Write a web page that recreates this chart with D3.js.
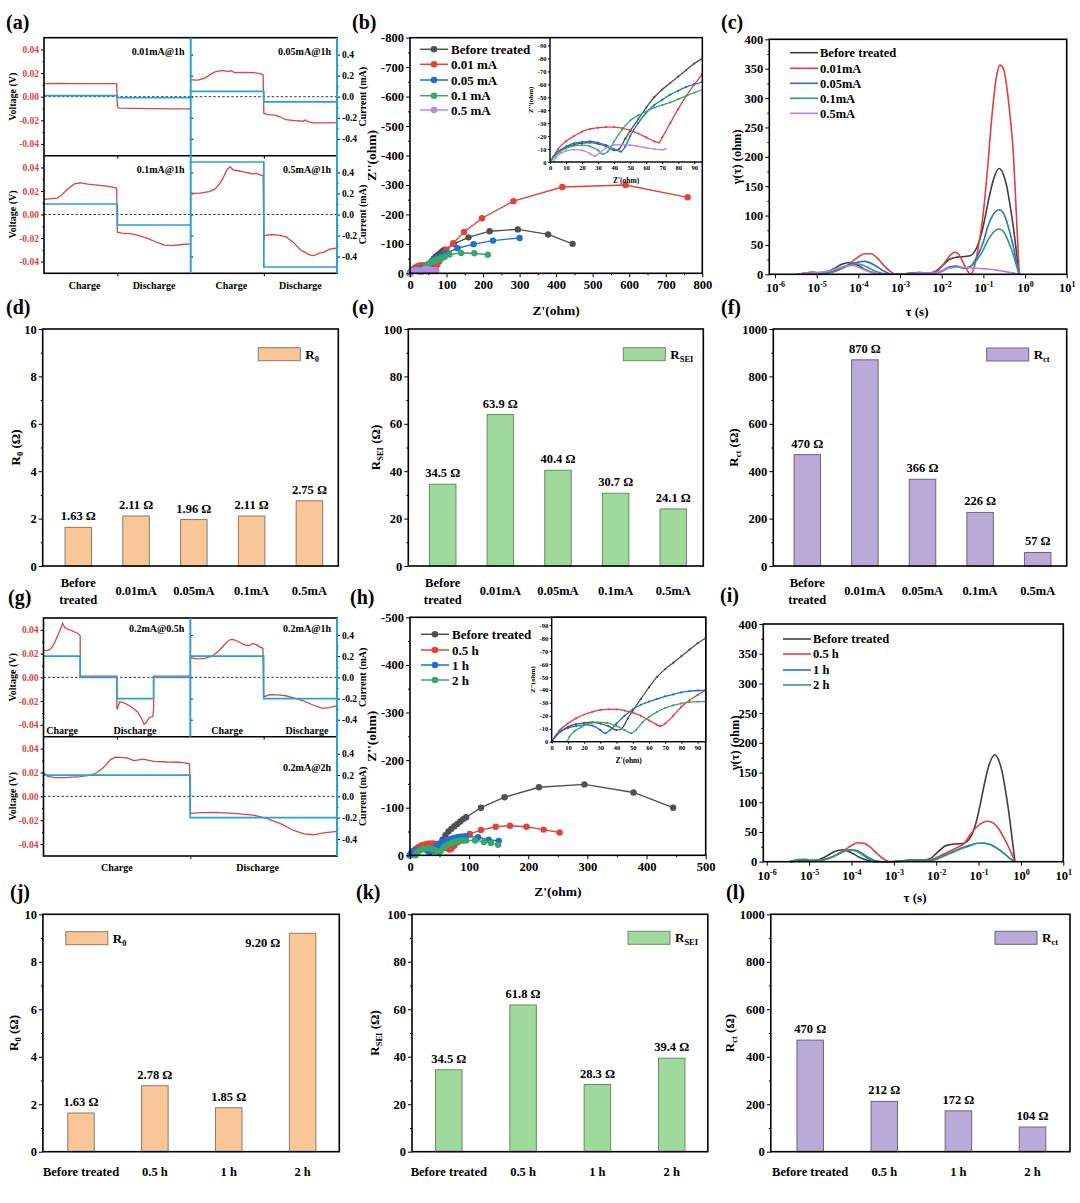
<!DOCTYPE html>
<html><head><meta charset="utf-8">
<script src="https://cdn.jsdelivr.net/npm/d3@7/dist/d3.min.js"></script>
<style>
html,body{margin:0;padding:0;background:#fff;}
svg{display:block;}
</style></head>
<body>
<svg id="fig" width="1080" height="1203" font-family="'Liberation Serif','Times New Roman',serif" font-weight="bold"></svg>
<script>
// ================= DATA =================
// (a) voltage (V) / current (mA) vs time (h)
const voltA_001 = [[0,0.0110],[0.2,0.0112],[0.4,0.0110],[0.6,0.0111],[0.8,0.0110],[0.99,0.0110],[1.0,-0.0085],[1.02,-0.0096],[1.2,-0.0099],[1.5,-0.0101],[1.8,-0.0103],[2.0,-0.0104]];
const currA_001 = [[0,0.01],[1,0.01],[1,-0.01],[2,-0.01]];
const voltA_005 = [[0,0.0143],[0.1,0.0140],[0.2,0.0160],[0.26,0.0185],[0.33,0.0210],[0.4,0.0218],[0.45,0.0222],[0.49,0.0212],[0.55,0.0220],[0.6,0.0204],[0.75,0.0206],[0.86,0.0204],[0.95,0.0196],[0.99,0.0186],[1.0,-0.0140],[1.05,-0.0152],[1.15,-0.0157],[1.22,-0.0170],[1.3,-0.0195],[1.45,-0.0204],[1.54,-0.0208],[1.57,-0.0195],[1.6,-0.0212],[1.68,-0.0222],[1.85,-0.0222],[2.0,-0.0220]];
const currA_005 = [[0,0.05],[1,0.05],[1,-0.05],[2,-0.05]];
const voltA_01 = [[0,0.0129],[0.1,0.0135],[0.18,0.0140],[0.25,0.0170],[0.32,0.0215],[0.42,0.0262],[0.5,0.0268],[0.6,0.0258],[0.76,0.0247],[0.88,0.0240],[0.99,0.0225],[1.0,-0.0150],[1.06,-0.0158],[1.2,-0.0165],[1.3,-0.0180],[1.42,-0.0205],[1.55,-0.0240],[1.65,-0.0260],[1.75,-0.0265],[1.88,-0.0255],[2.0,-0.0250]];
const currA_01 = [[0,0.1],[1,0.1],[1,-0.1],[2,-0.1]];
const voltA_05 = [[0,0.0184],[0.05,0.0180],[0.13,0.0182],[0.25,0.0195],[0.33,0.0215],[0.4,0.0265],[0.45,0.0320],[0.5,0.0385],[0.54,0.0405],[0.58,0.0380],[0.65,0.0372],[0.72,0.0362],[0.78,0.0355],[0.85,0.0345],[0.9,0.0350],[0.96,0.0335],[0.99,0.0330],[1.0,-0.0220],[1.01,-0.0180],[1.1,-0.0170],[1.2,-0.0175],[1.3,-0.0188],[1.4,-0.0235],[1.5,-0.0300],[1.6,-0.0335],[1.66,-0.0350],[1.7,-0.0345],[1.75,-0.0330],[1.82,-0.0320],[1.9,-0.0295],[1.95,-0.0290],[2.0,-0.0285]];
const currA_05 = [[0,0.5],[1,0.5],[1,-0.5],[2,-0.5]];
const labelsA = ["0.01mA@1h","0.05mA@1h","0.1mA@1h","0.5mA@1h"];

// (g)
const voltG_05h = [[0,0.0227],[0.05,0.0225],[0.1,0.0240],[0.15,0.0290],[0.2,0.0360],[0.24,0.0420],[0.26,0.0455],[0.29,0.0420],[0.33,0.0405],[0.38,0.0395],[0.43,0.0380],[0.47,0.0370],[0.5,0.0350],[0.5,0.0010],[1.0,0.0010],[1.0,-0.0270],[1.04,-0.0205],[1.1,-0.0215],[1.2,-0.0250],[1.28,-0.0290],[1.33,-0.0340],[1.37,-0.0395],[1.4,-0.0380],[1.44,-0.0340],[1.49,-0.0330],[1.5,-0.0260],[1.5,0.0010],[2.0,0.0010]];
const currG_05h = [[0,0.2],[0.5,0.2],[0.5,0],[1,0],[1,-0.2],[1.5,-0.2],[1.5,0],[2,0]];
const voltG_1h = [[0,0.0165],[0.05,0.0160],[0.1,0.0155],[0.2,0.0160],[0.3,0.0180],[0.4,0.0230],[0.48,0.0285],[0.55,0.0320],[0.6,0.0315],[0.66,0.0300],[0.73,0.0275],[0.8,0.0265],[0.85,0.0285],[0.9,0.0275],[0.95,0.0255],[0.99,0.0245],[1.0,-0.0165],[1.08,-0.0145],[1.2,-0.0148],[1.3,-0.0155],[1.42,-0.0175],[1.55,-0.0200],[1.68,-0.0235],[1.8,-0.0262],[1.9,-0.0255],[2.0,-0.0238]];
const currG_1h = [[0,0.2],[1,0.2],[1,-0.2],[2,-0.2]];
const voltG_2h = [[0,0.0200],[0.05,0.0170],[0.15,0.0157],[0.3,0.0157],[0.5,0.0165],[0.64,0.0177],[0.73,0.0200],[0.82,0.0243],[0.91,0.0306],[0.98,0.0328],[1.14,0.0322],[1.23,0.0300],[1.36,0.0312],[1.5,0.0294],[1.68,0.0288],[1.86,0.0286],[1.99,0.0272],[2.0,-0.0143],[2.14,-0.0136],[2.32,-0.0134],[2.59,-0.0143],[2.86,-0.0157],[3.05,-0.0186],[3.23,-0.0229],[3.41,-0.0286],[3.55,-0.0314],[3.68,-0.0322],[3.82,-0.0306],[4.0,-0.0294]];
const currG_2h = [[0,0.2],[2,0.2],[2,-0.2],[4,-0.2]];
const labelsG = ["0.2mA@0.5h","0.2mA@1h","0.2mA@2h"];

// Nyquist data: [Z' (ohm), -Z'' (ohm)]
const nyqBefore = [[0,0],[3,5],[6,8.5],[10,11.5],[15,13.5],[20,14.5],[25,15],[30,14],[35,12],[40,9],[43,10],[47,18],[50,24],[55,33],[60,42],[65,50],[70,56],[75,61],[80,66],[85,71],[90,76],[95,80],[120,100],[160,122],[218,143],[295,149],[378,132],[445,100]];
const nyq001 = [[0,0],[2,4],[5,10],[10,16],[15,20],[20,23.5],[25,25.5],[30,26.5],[35,27],[40,27],[45,26],[50,24.5],[55,22],[60,19],[65,16],[68,15],[70,19],[75,30],[80,41],[85,51],[90,60],[95,68],[100,80],[118,102],[148,140],[197,187],[283,245],[417,293],[590,300],[760,258]];
const nyq005 = [[0,0],[2,4],[5,8],[10,12],[15,14.5],[20,15.5],[25,16],[30,15],[35,13],[40,10],[44,8],[47,12],[50,20],[55,30],[60,38],[65,44],[70,48],[75,52],[80,55],[85,58],[90,60],[95,62],[98,68],[130,85],[174,99],[227,111],[300,120]];
const nyq01 = [[0,0],[2,3],[5,7],[10,10.5],[15,12.5],[20,13],[25,12],[30,9],[33,6],[36,8],[40,16],[45,25],[50,32],[55,36],[60,39],[65,42],[70,44],[75,46],[80,48.5],[85,51],[90,53.5],[95,56],[108,64],[140,69],[176,68],[213,63]];
const nyq05 = [[2,0],[4,4],[7,7],[10,8.5],[15,9.5],[20,9],[25,6.5],[28,4.5],[31,7],[35,11],[40,13],[45,13.5],[50,13],[55,12],[60,11],[65,10],[70,9.5],[72,10]];
const nyqH05 = [[0,0],[2,4],[5,9],[10,14],[15,18],[20,21],[25,23],[30,24.5],[35,25],[40,25],[45,24],[50,22.5],[55,20],[60,16.5],[65,13],[67,12],[70,14],[75,20],[80,27],[85,32],[90,36],[95,40],[101,45],[120,53],[145,60],[169,62],[197,60],[226,54],[253,48]];
const nyqH1 = [[0,0],[2,3.5],[5,7.5],[10,10.5],[15,12],[20,13],[25,12.5],[30,9],[33,6.5],[36,9],[40,14],[45,20],[50,25],[55,28.5],[60,31],[65,33],[70,35],[75,36.5],[80,38],[85,39],[90,39.5],[95,39.5],[115,38],[133,33],[150,30]];
const nyqH2 = [[9.5,0],[11,4],[14,8],[18,11],[22,13.5],[28,15],[34,14.5],[40,12],[45,9],[49,6.5],[52,9],[56,15],[60,19],[65,23],[70,26],[75,28],[80,29.5],[85,30.5],[90,31],[95,31],[110,31],[125,28],[137,26],[149,22]];
const legendB = ["Before treated","0.01 mA","0.05 mA","0.1 mA","0.5 mA"];
const legendH = ["Before treated","0.5 h","1 h","2 h"];

// DRT data: [log10(tau/s), gamma (ohm)]
const drtBefore = [[-5.45,0],[-5.25,2],[-5.1,4],[-4.95,2],[-4.8,3],[-4.6,9],[-4.4,17],[-4.2,20],[-4.0,15],[-3.8,7],[-3.6,2],[-3.45,0],[-3.0,0],[-2.75,2],[-2.55,3],[-2.35,2],[-2.15,5],[-1.95,17],[-1.8,26],[-1.65,29],[-1.5,30],[-1.35,31],[-1.2,40],[-1.05,68],[-0.95,100],[-0.85,135],[-0.75,163],[-0.62,180],[-0.52,170],[-0.44,150],[-0.36,118],[-0.28,80],[-0.21,40],[-0.14,0]];
const drt001 = [[-5.45,0],[-5.2,2],[-5.0,1],[-4.7,3],[-4.45,8],[-4.25,16],[-4.05,27],[-3.85,35],[-3.7,35],[-3.55,28],[-3.4,16],[-3.25,6],[-3.1,0],[-2.8,1],[-2.55,3],[-2.3,2],[-2.1,6],[-1.95,18],[-1.8,32],[-1.68,38],[-1.58,33],[-1.45,15],[-1.3,0],[-1.2,18],[-1.1,55],[-1.0,105],[-0.9,180],[-0.8,265],[-0.7,330],[-0.6,356],[-0.52,350],[-0.44,320],[-0.36,270],[-0.28,205],[-0.22,120],[-0.17,45],[-0.14,0]];
const drt005 = [[-5.45,0],[-5.0,1],[-4.6,5],[-4.3,14],[-4.0,21],[-3.85,22],[-3.6,15],[-3.4,6],[-3.2,0],[-2.8,1],[-2.5,2],[-2.2,2],[-2.0,6],[-1.8,13],[-1.65,14],[-1.45,10],[-1.3,14],[-1.15,30],[-1.0,55],[-0.9,80],[-0.78,100],[-0.62,110],[-0.52,104],[-0.44,90],[-0.36,70],[-0.28,47],[-0.21,22],[-0.14,0]];
const drt01 = [[-5.45,0],[-5.0,1],[-4.6,4],[-4.3,13],[-4.05,18],[-3.9,16],[-3.7,9],[-3.5,3],[-3.3,0],[-2.8,1],[-2.5,2],[-2.2,2],[-2.0,5],[-1.8,11],[-1.65,12],[-1.45,11],[-1.3,14],[-1.15,25],[-1.0,42],[-0.9,57],[-0.78,70],[-0.62,77],[-0.52,73],[-0.44,63],[-0.36,49],[-0.28,33],[-0.21,16],[-0.14,0]];
const drt05 = [[-5.5,0],[-5.25,2],[-5.0,3],[-4.75,5],[-4.5,10],[-4.3,14],[-4.15,15],[-4.0,12],[-3.8,6],[-3.6,2],[-3.4,0],[-2.8,1],[-2.5,2],[-2.2,2],[-2.0,6],[-1.85,10],[-1.7,12],[-1.5,12],[-1.3,11],[-1.1,10],[-0.9,9],[-0.7,7.5],[-0.5,5],[-0.35,3],[-0.2,1],[-0.14,0]];
const drtH05 = [[-5.45,0],[-5.2,2],[-5.0,1],[-4.7,3],[-4.45,8],[-4.25,16],[-4.05,25],[-3.85,32],[-3.7,31],[-3.55,24],[-3.4,14],[-3.25,5],[-3.1,0],[-2.8,1],[-2.55,3],[-2.3,3],[-2.1,4],[-1.9,10],[-1.7,17],[-1.5,24],[-1.35,30],[-1.2,45],[-1.05,58],[-0.9,66],[-0.78,68],[-0.65,65],[-0.52,55],[-0.4,40],[-0.28,23],[-0.2,10],[-0.14,0]];
const drtH1 = [[-5.45,0],[-5.2,3],[-5.0,2],[-4.7,3],[-4.45,8],[-4.25,15],[-4.05,20],[-3.9,19],[-3.75,14],[-3.6,7],[-3.45,2],[-3.3,0],[-2.8,1],[-2.5,2],[-2.2,2],[-2.0,4],[-1.8,11],[-1.6,17],[-1.4,23],[-1.2,28],[-1.0,31],[-0.85,31],[-0.7,28],[-0.55,22],[-0.4,14],[-0.27,6],[-0.14,0]];
const drtH2 = [[-5.45,0],[-5.2,4],[-5.0,2],[-4.7,3],[-4.45,8],[-4.25,15],[-4.05,20],[-3.9,18],[-3.75,12],[-3.6,5],[-3.45,1],[-3.3,0],[-2.8,1],[-2.5,2],[-2.2,2],[-2.0,4],[-1.8,10],[-1.6,16],[-1.4,22],[-1.2,27],[-1.0,31],[-0.85,31],[-0.7,28],[-0.55,22],[-0.4,14],[-0.27,6],[-0.14,0]];
const legendC = ["Before treated","0.01mA","0.05mA","0.1mA","0.5mA"];
const legendI = ["Before treated","0.5 h","1 h","2 h"];

// Bar data
const catsA = ["Before treated","0.01mA","0.05mA","0.1mA","0.5mA"];
const r0A = [1.63,2.11,1.96,2.11,2.75];
const rseiA = [34.5,63.9,40.4,30.7,24.1];
const rctA = [470,870,366,226,57];
const catsB = ["Before treated","0.5 h","1 h","2 h"];
const r0B = [1.63,2.78,1.85,9.20];
const rseiB = [34.5,61.8,28.3,39.4];
const rctB = [470,212,172,104];

// ================= STYLE =================
const RED_V = "#d9463e", BLUE_I = "#27a0db";
const NYQ_COL = ["#505050","#e2423c","#1f6fd1","#3aa76a","#b68ae3"];
const NYQ_COL_H = ["#505050","#e2423c","#1f6fd1","#3aa76a"];
const DRT_COL = ["#3f3f3f","#e23f3f","#2b6fc9","#2f9a70","#b57fe6"];
const DRT_COL_I = ["#3f3f3f","#e23f3f","#2b6fc9","#2f9a70"];

const svg = d3.select("#fig");

function txt(g,x,y,s,fs,anchor,fill){
  return g.append("text").attr("x",x).attr("y",y).attr("font-size",fs)
    .attr("text-anchor",anchor||"start").attr("fill",fill||"#000").text(s);
}
function vtxt(g,xc,yc,fs){
  return g.append("text").attr("transform",`translate(${xc+fs*0.35},${yc}) rotate(-90)`)
    .attr("text-anchor","middle").attr("font-size",fs);
}
function frame(g,x0,y0,x1,y1,w){
  g.append("rect").attr("x",x0).attr("y",y0).attr("width",x1-x0).attr("height",y1-y0)
    .attr("fill","none").attr("stroke","#000").attr("stroke-width",w||1.5);
}
function clean(a,fs,color){
  a.attr("font-family",null).attr("font-size",null);
  a.select(".domain").remove();
  a.selectAll(".tick line").attr("stroke","#000").attr("stroke-width",1);
  a.selectAll(".tick text").attr("fill",color||"#000").attr("font-size",fs);
  return a;
}
function axis(g,orient,scale,pos,major,minor,fmt,fs,opts){
  opts = opts||{};
  const gen = {left:d3.axisLeft,right:d3.axisRight,bottom:d3.axisBottom,top:d3.axisTop}[orient];
  const tr = (orient==="left"||orient==="right") ? `translate(${pos},0)` : `translate(0,${pos})`;
  const len = opts.len!=null ? opts.len : 4;
  const a = g.append("g").attr("transform",tr)
    .call(gen(scale).tickValues(major).tickSize(len).tickPadding(opts.pad!=null?opts.pad:2).tickFormat(fmt));
  clean(a,fs,opts.color);
  if (minor && minor.length){
    const m = g.append("g").attr("transform",tr)
      .call(gen(scale).tickValues(minor).tickSize(len/2).tickFormat(()=>""));
    clean(m,fs);
  }
  return a;
}

// ================= (a) & (g) voltage/current =================
function vcBox(g,b,volt,curr,tmax,label,opts){
  const xs = d3.scaleLinear([0,tmax],[b.x0,b.x1]);
  const yv = d3.scaleLinear([-0.05,0.05],[b.y1,b.y0]);
  const yi = d3.scaleLinear([-0.56,0.56],[b.y1,b.y0]);
  g.append("line").attr("x1",b.x0).attr("x2",b.x1).attr("y1",yv(0)).attr("y2",yv(0))
    .attr("stroke","#222").attr("stroke-width",0.9).attr("stroke-dasharray","2.5,2");
  g.append("path").datum(volt).attr("d",d3.line().x(d=>xs(d[0])).y(d=>yv(d[1])))
    .attr("fill","none").attr("stroke",RED_V).attr("stroke-width",1.3);
  g.append("path").datum(curr).attr("d",d3.line().x(d=>xs(d[0])).y(d=>yi(d[1])))
    .attr("fill","none").attr("stroke",BLUE_I).attr("stroke-width",1.7);
  txt(g,b.x1-6,b.y0+(opts.labDy||17),label,10,"end");
  if (opts.left){
    axis(g,"left",yv,b.x0,[-0.04,-0.02,0,0.02,0.04],[-0.03,-0.01,0.01,0.03],d=>d.toFixed(2),9.5,{color:RED_V,len:3});
    vtxt(g,12,(b.y0+b.y1)/2,10).text("Voltage (V)");
  }
  if (opts.right){
    axis(g,"right",yi,b.x1,[-0.4,-0.2,0,0.2,0.4],[-0.3,-0.1,0.1,0.3],d=>d.toFixed(1),9.5,{len:3});
    vtxt(g,362,(b.y0+b.y1)/2,10).text("Current (mA)");
  } else {
    axis(g,"right",yi,b.x1,[-0.4,-0.2,0,0.2,0.4],null,()=>"",9.5,{len:2.5});
  }
  // x tick at mid
  axis(g,"bottom",xs,b.y1,[tmax/2],null,()=>"",9,{len:3});
  return xs;
}

(function panelA(){
  const g = svg.append("g");
  const X0=44, XM=190.7, X1=337, Y0=37.7, YM=155.7, Y1=273.3;
  const xa = vcBox(g,{x0:X0,x1:XM,y0:Y0,y1:YM},voltA_001,currA_001,2,labelsA[0],{left:true});
  const xb = vcBox(g,{x0:XM,x1:X1,y0:Y0,y1:YM},voltA_005,currA_005,2,labelsA[1],{right:true});
  const xc = vcBox(g,{x0:X0,x1:XM,y0:YM,y1:Y1},voltA_01,currA_01,2,labelsA[2],{left:true});
  const xd = vcBox(g,{x0:XM,x1:X1,y0:YM,y1:Y1},voltA_05,currA_05,2,labelsA[3],{right:true});
  frame(g,X0,Y0,X1,Y1,1.6);
  g.append("line").attr("x1",X0).attr("x2",X1).attr("y1",YM).attr("y2",YM).attr("stroke","#000").attr("stroke-width",1.6);
  g.append("line").attr("x1",XM).attr("x2",XM).attr("y1",Y0).attr("y2",Y1).attr("stroke",BLUE_I).attr("stroke-width",2);
  g.append("line").attr("x1",X1).attr("x2",X1).attr("y1",Y0).attr("y2",Y1).attr("stroke",BLUE_I).attr("stroke-width",2);
  txt(g,xc(0.5)+4,289,"Charge",10,"middle");
  txt(g,xc(1.5),289,"Discharge",10,"middle");
  txt(g,xd(0.5)+4,289,"Charge",10,"middle");
  txt(g,xd(1.5),289,"Discharge",10,"middle");
})();

(function panelG(){
  const g = svg.append("g");
  const X0=43.5, XM=190.3, X1=337, Y0=618, YM=736.7, Y1=856;
  const xa = vcBox(g,{x0:X0,x1:XM,y0:Y0,y1:YM},voltG_05h,currG_05h,2,labelsG[0],{left:true,labDy:14});
  const xb = vcBox(g,{x0:XM,x1:X1,y0:Y0,y1:YM},voltG_1h,currG_1h,2,labelsG[1],{right:true,labDy:14});
  const xc = vcBox(g,{x0:X0,x1:X1,y0:YM,y1:Y1},voltG_2h,currG_2h,4,labelsG[2],{left:true,right:true,labDy:34});
  frame(g,X0,Y0,X1,Y1,1.6);
  g.append("line").attr("x1",X0).attr("x2",X1).attr("y1",YM).attr("y2",YM).attr("stroke","#000").attr("stroke-width",1.6);
  g.append("line").attr("x1",XM).attr("x2",XM).attr("y1",Y0).attr("y2",YM).attr("stroke",BLUE_I).attr("stroke-width",2);
  g.append("line").attr("x1",X1).attr("x2",X1).attr("y1",Y0).attr("y2",Y1).attr("stroke",BLUE_I).attr("stroke-width",2);
  txt(g,62,734,"Charge",10,"middle");
  txt(g,135,734,"Discharge",10,"middle");
  txt(g,227,734,"Charge",10,"middle");
  txt(g,307,734,"Discharge",10,"middle");
  txt(g,xc(1),871,"Charge",10,"middle");
  txt(g,xc(3)-6,871,"Discharge",10,"middle");
})();

// ================= Nyquist =================
let clipId = 0;
function nyquist(cfg){
  const g = svg.append("g");
  const xs = d3.scaleLinear([0,cfg.xmax],[cfg.x0,cfg.x1]);
  const ys = d3.scaleLinear([0,cfg.ymax],[cfg.y1,cfg.y0]);
  const line = d3.line().x(d=>xs(d[0])).y(d=>ys(d[1]));
  cfg.series.forEach((s,i)=>{
    g.append("path").datum(s).attr("d",line).attr("fill","none").attr("stroke",cfg.colors[i]).attr("stroke-width",1.4);
    g.append("g").selectAll("circle").data(s).join("circle")
      .attr("cx",d=>xs(d[0])).attr("cy",d=>ys(d[1])).attr("r",3.2).attr("fill",cfg.colors[i]);
  });
  axis(g,"left",ys,cfg.x0,d3.range(0,cfg.ymax+1,100),d3.range(50,cfg.ymax,100),d=>d===0?"0":"-"+d,12.5);
  axis(g,"bottom",xs,cfg.y1,d3.range(0,cfg.xmax+1,100),d3.range(50,cfg.xmax,100),d=>d,12.5,{pad:3});
  frame(g,cfg.x0,cfg.y0,cfg.x1,cfg.y1,1.6);
  txt(g,(cfg.x0+cfg.x1)/2,cfg.xtY,"Z'(ohm)",13.5,"middle");
  vtxt(g,cfg.ytX,(cfg.y0+cfg.y1)/2,13.5).text("Z''(ohm)");
  // legend
  cfg.legend.forEach((s,i)=>{
    const y = cfg.ly[i];
    g.append("line").attr("x1",cfg.lx0).attr("x2",cfg.lx0+28).attr("y1",y).attr("y2",y).attr("stroke",cfg.colors[i]).attr("stroke-width",1.5);
    g.append("circle").attr("cx",cfg.lx0+14).attr("cy",y).attr("r",3.3).attr("fill",cfg.colors[i]);
    txt(g,cfg.lx0+31,y+4.5,s,13,"start");
  });
  // inset
  const ib = cfg.inset;
  const ixs = d3.scaleLinear([0,95],[ib.x0,ib.x1]);
  const iys = d3.scaleLinear([0,96],[ib.y1,ib.y0]);
  g.append("rect").attr("x",ib.x0).attr("y",ib.y0).attr("width",ib.x1-ib.x0).attr("height",ib.y1-ib.y0).attr("fill","#fff");
  const id = "clip"+(clipId++);
  g.append("clipPath").attr("id",id).append("rect").attr("x",ib.x0).attr("y",ib.y0).attr("width",ib.x1-ib.x0).attr("height",ib.y1-ib.y0);
  const ig = g.append("g").attr("clip-path",`url(#${id})`);
  const iline = d3.line().x(d=>ixs(d[0])).y(d=>iys(d[1])).curve(d3.curveMonotoneX);
  cfg.series.forEach((s,i)=>{
    ig.append("path").datum(s).attr("d",iline).attr("fill","none").attr("stroke",cfg.colors[i]).attr("stroke-width",1.3);
    ig.append("g").selectAll("circle").data(s).join("circle")
      .attr("cx",d=>ixs(d[0])).attr("cy",d=>iys(d[1])).attr("r",1.1).attr("fill",cfg.colors[i]);
  });
  axis(g,"left",iys,ib.x0,d3.range(0,91,10),null,d=>d===0?"0":"-"+d,6.5,{len:2,pad:1.5});
  axis(g,"bottom",ixs,ib.y1,d3.range(0,91,10),null,d=>d,6.5,{len:2,pad:1.5});
  frame(g,ib.x0,ib.y0,ib.x1,ib.y1,1.4);
  txt(g,(ib.x0+ib.x1)/2,ib.y1+21,"Z'(ohm)",7.5,"middle");
  vtxt(g,ib.x0-19,(ib.y0+ib.y1)/2,7).text("Z''(ohm)");
}

nyquist({x0:410,x1:702.3,y0:37.7,y1:273.3,xmax:800,ymax:800,
  series:[nyqBefore,nyq001,nyq005,nyq01,nyq05],colors:NYQ_COL,legend:legendB,
  lx0:420,ly:[49.3,64.3,80,95.7,110],xtY:315,ytX:371,
  inset:{x0:550,x1:702.3,y0:37.7,y1:162}});
nyquist({x0:410,x1:705.7,y0:617.3,y1:855.3,xmax:500,ymax:500,
  series:[nyqBefore,nyqH05,nyqH1,nyqH2],colors:NYQ_COL_H,legend:legendH,
  lx0:421,ly:[634.3,650,665,680],xtY:896,ytX:371,
  inset:{x0:551.7,x1:705.7,y0:617.3,y1:741.7}});

// ================= DRT =================
function drtPanel(cfg){
  const g = svg.append("g");
  const xs = d3.scaleLog().domain([Math.pow(10,cfg.e0),10]).range([cfg.x0,cfg.x1]);
  const ys = d3.scaleLinear([0,400],[cfg.y1,cfg.y0]);
  const line = d3.line().x(d=>xs(Math.pow(10,d[0]))).y(d=>ys(d[1])).curve(d3.curveMonotoneX);
  cfg.series.forEach((s,i)=>{
    g.append("path").datum(s).attr("d",line).attr("fill","none").attr("stroke",cfg.colors[i]).attr("stroke-width",1.6);
  });
  axis(g,"left",ys,cfg.x0,d3.range(0,401,50),d3.range(25,400,50),d=>d,12.5);
  const decs = d3.range(-6,2).map(e=>Math.pow(10,e));
  const ax = axis(g,"bottom",xs,cfg.y1,decs,null,()=>"10",12.5,{pad:5});
  ax.selectAll(".tick text").append("tspan").attr("dy",-5).attr("font-size",8).text(d=>Math.round(Math.log10(d)));
  frame(g,cfg.x0,cfg.y0,cfg.x1,cfg.y1,1.6);
  txt(g,cfg.xtX,cfg.xtY,"τ (s)",13,"middle");
  vtxt(g,cfg.ytX,(cfg.y0+cfg.y1)/2,12.5).text("γ(τ) (ohm)");
  cfg.legend.forEach((s,i)=>{
    const y = cfg.ly[i];
    g.append("line").attr("x1",cfg.lx0).attr("x2",cfg.lx0+28).attr("y1",y).attr("y2",y).attr("stroke",cfg.colors[i]).attr("stroke-width",1.6);
    txt(g,cfg.lx0+30,y+4.3,s,12.5,"start");
  });
}
drtPanel({x0:769.3,x1:1066.7,y0:39.3,y1:274.3,e0:-6.137,series:[drtBefore,drt001,drt005,drt01,drt05],
  colors:DRT_COL,legend:legendC,lx0:790,ly:[52.7,68.3,83.3,98.3,113.3],xtX:917,xtY:316,ytX:737});
drtPanel({x0:763.3,x1:1063.3,y0:624,y1:861.7,e0:-6.08,series:[drtBefore,drtH05,drtH1,drtH2],
  colors:DRT_COL_I,legend:legendI,lx0:783,ly:[639,654,670,685],xtX:915,xtY:902,ytX:735});

// ================= Bars =================
function barPanel(cfg){
  const g = svg.append("g");
  const xs = d3.scalePoint().domain(cfg.cats).range([cfg.c0,cfg.c1]);
  const ys = d3.scaleLinear([0,cfg.ymax],[cfg.y1,cfg.y0]);
  const bw = 26.5;
  g.append("g").selectAll("rect").data(cfg.vals).join("rect")
    .attr("x",(d,i)=>xs(cfg.cats[i])-bw/2).attr("y",d=>ys(d)).attr("width",bw).attr("height",d=>ys(0)-ys(d))
    .attr("fill",cfg.fill).attr("stroke",cfg.stroke).attr("stroke-width",1);
  cfg.vals.forEach((v,i)=>{
    const cx = xs(cfg.cats[i]), top = ys(v);
    const s = cfg.fmt(v)+" Ω";
    if (top - cfg.y0 < 20) txt(g,cx-bw/2-9,top+14,s,12.5,"end");
    else txt(g,cx,top-7,s,12.5,"middle");
  });
  axis(g,"left",ys,cfg.x0,d3.range(0,cfg.ymax+cfg.step/2,cfg.step),d3.range(cfg.step/2,cfg.ymax,cfg.step),d=>d,12.5);
  frame(g,cfg.x0,cfg.y0,cfg.x1,cfg.y1,1.6);
  cfg.cats.forEach(c=>{
    const cx = xs(c);
    if (cfg.wrap && c==="Before treated"){
      txt(g,cx,cfg.labY-8,"Before",12.5,"middle");
      txt(g,cx,cfg.labY+9,"treated",12.5,"middle");
    } else txt(g,cx,cfg.labY,c,12.5,"middle");
  });
  g.append("rect").attr("x",cfg.lx).attr("y",cfg.ly).attr("width",42).attr("height",13)
    .attr("fill",cfg.fill).attr("stroke",cfg.stroke).attr("stroke-width",1);
  const lt = g.append("text").attr("x",cfg.lx+47).attr("y",cfg.ly+11).attr("font-size",13);
  lt.append("tspan").text("R");
  lt.append("tspan").attr("font-size",8.5).attr("dy",3).text(cfg.sub);
  const yt = vtxt(g,cfg.tx,(cfg.y0+cfg.y1)/2,13);
  yt.append("tspan").text("R");
  yt.append("tspan").attr("font-size",8.5).attr("dy",3).text(cfg.sub);
  yt.append("tspan").attr("font-size",13).attr("dy",-3).text(" (Ω)");
}
const OR = "#f9c698", ORs = "#8a7a6a", GR = "#9fd99b", GRs = "#6c8a68", PU = "#b9aad7", PUs = "#6c6480";
barPanel({cats:catsA,vals:r0A,x0:42.7,x1:338.3,y0:329,y1:566,c0:78.3,c1:309.4,ymax:10,step:2,
  fill:OR,stroke:ORs,fmt:v=>v.toFixed(2),sub:"0",wrap:true,labY:595,lx:258.3,ly:347.7,tx:15});
barPanel({cats:catsA,vals:rseiA,x0:408.3,x1:703.3,y0:329,y1:566,c0:442.7,c1:673.3,ymax:100,step:20,
  fill:GR,stroke:GRs,fmt:v=>v.toFixed(1),sub:"SEI",wrap:true,labY:595,lx:623.3,ly:347.7,tx:375});
barPanel({cats:catsA,vals:rctA,x0:773.3,x1:1066.7,y0:329,y1:566,c0:807.3,c1:1037.7,ymax:1000,step:200,
  fill:PU,stroke:PUs,fmt:v=>v.toFixed(0),sub:"ct",wrap:true,labY:595,lx:986.7,ly:348,tx:733});
barPanel({cats:catsB,vals:r0B,x0:42.9,x1:339.3,y0:914.3,y1:1151.7,c0:81,c1:302.6,ymax:10,step:2,
  fill:OR,stroke:ORs,fmt:v=>v.toFixed(2),sub:"0",wrap:false,labY:1176,lx:65.8,ly:931.7,tx:13});
barPanel({cats:catsB,vals:rseiB,x0:412,x1:707.8,y0:914.3,y1:1151.7,c0:448.8,c1:671.7,ymax:100,step:20,
  fill:GR,stroke:GRs,fmt:v=>v.toFixed(1),sub:"SEI",wrap:false,labY:1176,lx:628,ly:931.3,tx:374});
barPanel({cats:catsB,vals:rctB,x0:770.8,x1:1070,y0:914.3,y1:1151.7,c0:810.2,c1:1032.5,ymax:1000,step:200,
  fill:PU,stroke:PUs,fmt:v=>v.toFixed(0),sub:"ct",wrap:false,labY:1176,lx:995,ly:931.3,tx:729});

// ================= panel letters =================
const letters = [["(a)",6,29],["(b)",352,29],["(c)",721,29],["(d)",6,314],["(e)",352,314],["(f)",721,314],
  ["(g)",8,604],["(h)",350,604],["(i)",720,602],["(j)",10,899],["(k)",356,899],["(l)",726,899]];
letters.forEach(l=>txt(svg,l[1],l[2],l[0],20,"start"));
</script>
</body></html>
